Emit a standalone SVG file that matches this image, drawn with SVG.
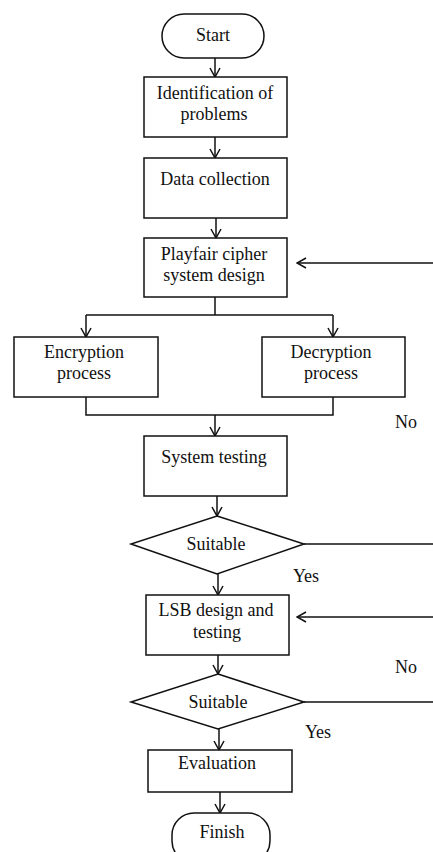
<svg xmlns="http://www.w3.org/2000/svg" width="433" height="852" viewBox="0 0 433 852">
<style>
.n{fill:#fff;stroke:#111;stroke-width:1.5}
.t{font-family:"Liberation Serif","Times New Roman",serif;font-size:18px;fill:#111;text-anchor:middle}
.c{fill:none;stroke:#111;stroke-width:1.5}
.a{marker-end:url(#ah)}
</style>
<defs>
<marker id="ah" viewBox="0 0 12 12" refX="11" refY="6" markerWidth="12" markerHeight="12" markerUnits="userSpaceOnUse" orient="auto">
<polyline points="2,1 11,6 2,11" fill="none" stroke="#111" stroke-width="1.5"/>
</marker>
</defs>
<rect width="433" height="852" fill="#fff"/>
<g id="connectors">
<line class="c a" x1="215" y1="58" x2="215" y2="77"/>
<line class="c a" x1="215" y1="137" x2="215" y2="158"/>
<line class="c a" x1="216" y1="218" x2="216" y2="238"/>
<polyline class="c" points="215,297 215,315"/>
<line class="c" x1="86" y1="315" x2="333" y2="315"/>
<line class="c a" x1="86" y1="315" x2="86" y2="337"/>
<line class="c a" x1="333" y1="315" x2="333" y2="337"/>
<polyline class="c" points="86,397 86,415 333,415 333,397"/>
<line class="c a" x1="215" y1="415" x2="215" y2="436"/>
<line class="c a" x1="433" y1="263" x2="297" y2="263"/>
<line class="c a" x1="217" y1="496" x2="217" y2="516"/>
<line class="c" x1="304" y1="544" x2="433" y2="544"/>
<line class="c a" x1="218" y1="574" x2="218" y2="595"/>
<line class="c a" x1="433" y1="617" x2="297" y2="617"/>
<line class="c a" x1="218" y1="655" x2="218" y2="674"/>
<line class="c" x1="304" y1="702" x2="433" y2="702"/>
<line class="c a" x1="219" y1="729" x2="219" y2="750"/>
<line class="c a" x1="220" y1="792" x2="220" y2="813"/>
<text class="t" x="406" y="428">No</text>
<text class="t" x="306" y="582">Yes</text>
<text class="t" x="406" y="673">No</text>
<text class="t" x="318" y="738">Yes</text>
</g>
<g id="start"><rect class="n" x="162" y="14" width="102" height="44" rx="22"/><text class="t" x="213" y="41">Start</text></g>
<g id="identification"><rect class="n" x="144" y="77" width="143" height="60"/><text class="t" x="215" y="99">Identification of</text><text class="t" x="214" y="120">problems</text></g>
<g id="data"><rect class="n" x="144" y="158" width="143" height="60"/><text class="t" x="215" y="185">Data collection</text></g>
<g id="playfair"><rect class="n" x="144" y="238" width="143" height="59"/><text class="t" x="214" y="260">Playfair cipher</text><text class="t" x="214" y="281">system design</text></g>
<g id="encryption"><rect class="n" x="14" y="337" width="144" height="60"/><text class="t" x="84" y="358">Encryption</text><text class="t" x="84" y="379">process</text></g>
<g id="decryption"><rect class="n" x="262" y="337" width="143" height="60"/><text class="t" x="331" y="358">Decryption</text><text class="t" x="331" y="379">process</text></g>
<g id="testing"><rect class="n" x="144" y="436" width="143" height="60"/><text class="t" x="214" y="463">System testing</text></g>
<g id="suitable1"><polygon class="n" points="217,516 304,544 217,574 131,544"/><text class="t" x="216" y="550">Suitable</text></g>
<g id="lsb"><rect class="n" x="146" y="595" width="143" height="60"/><text class="t" x="216" y="616">LSB design and</text><text class="t" x="217" y="638">testing</text></g>
<g id="suitable2"><polygon class="n" points="218,674 304,702 218,729 131,702"/><text class="t" x="218" y="708">Suitable</text></g>
<g id="evaluation"><rect class="n" x="148" y="750" width="144" height="42"/><text class="t" x="217" y="769">Evaluation</text></g>
<g id="finish"><rect class="n" x="172" y="813" width="98" height="50" rx="22"/><text class="t" x="222" y="838">Finish</text></g>
</svg>
